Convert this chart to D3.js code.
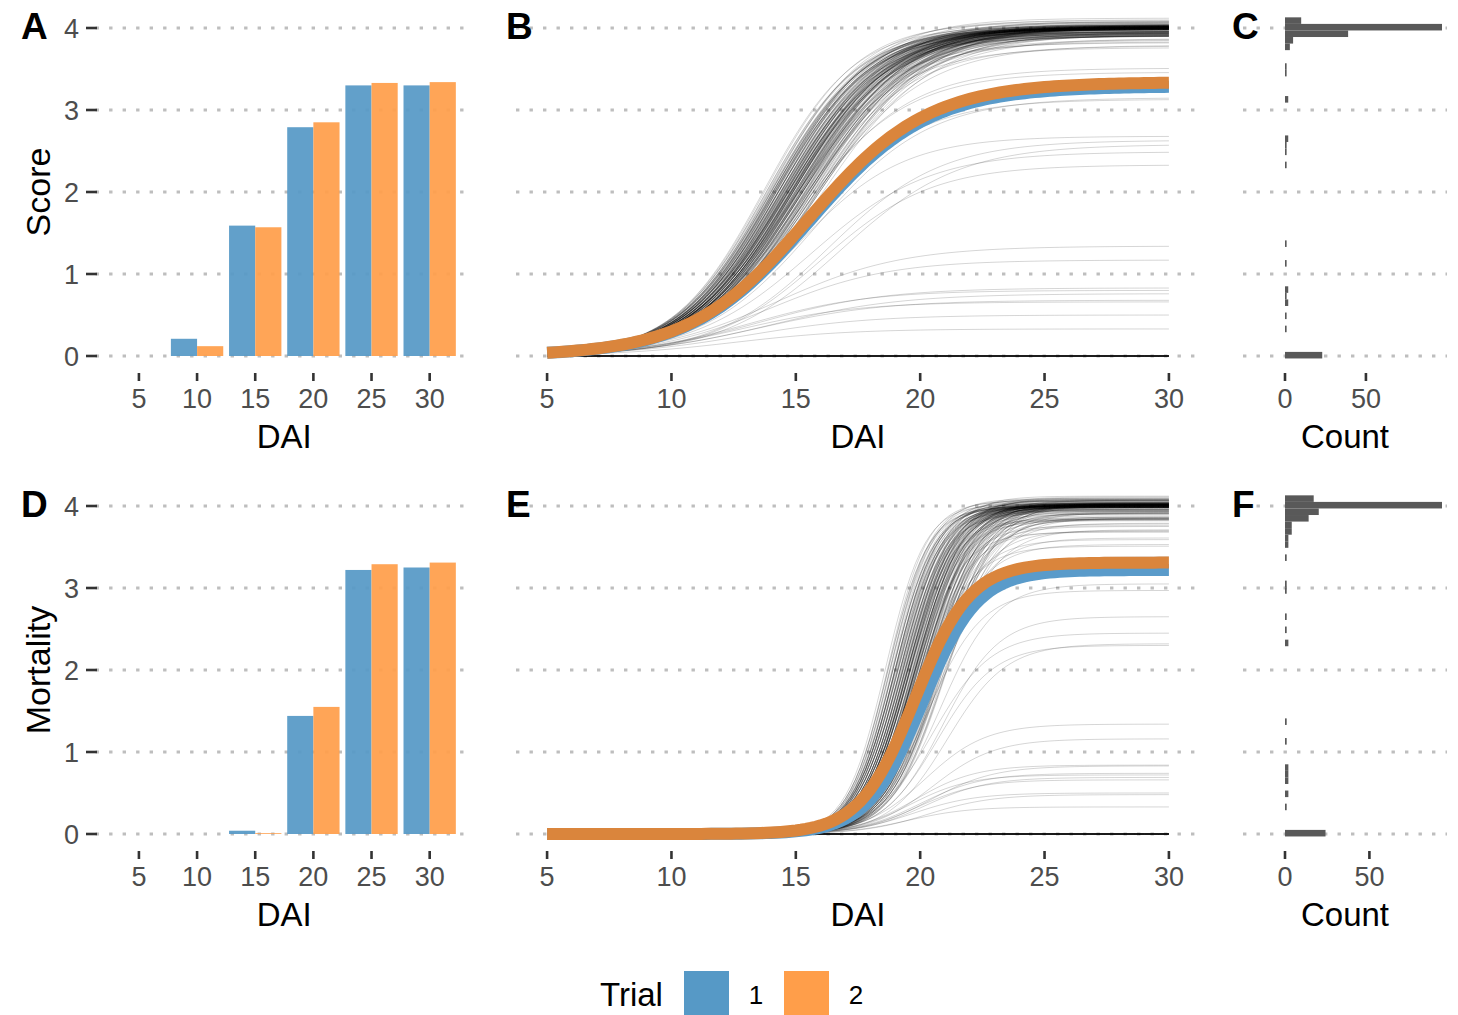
<!DOCTYPE html>
<html>
<head>
<meta charset="utf-8">
<script src="https://cdn.jsdelivr.net/npm/d3@7"></script>
<style>
  body { margin: 0; background: #fff; }
  svg { display: block; font-family: "Liberation Sans", Arial, sans-serif; }
</style>
</head>
<body>
<div id="chart"></div>
<script>
// ---- data ------------------------------------------------------------
const dai = [5, 10, 15, 20, 25, 30];
const trials = ["1", "2"];
const yTicks = [0, 1, 2, 3, 4];
const countTicks = [0, 50];

const scoreTrial1 = [0, 0.21, 1.59, 2.79, 3.30, 3.30];
const scoreTrial2 = [0, 0.12, 1.57, 2.85, 3.33, 3.34];
const mortTrial1 = [0, 0, 0.04, 1.44, 3.22, 3.25];
const mortTrial2 = [0, 0, 0.01, 1.55, 3.29, 3.31];

// fitted logistic per trial: [asymptote, midpoint DAI, rate]
const scoreMeanFits = [[3.29, 15.55, 0.42], [3.34, 15.5, 0.42]];
const mortMeanFits = [[3.22, 20.1, 0.90], [3.31, 19.8, 0.90]];

// fitted logistic per plant: [asymptote, midpoint DAI, rate]
const scoreFits = [
  [4.06,14.2,.52],[4.08,14.6,.50],[4.07,13.8,.54],[4.10,14.4,.51],[4.06,15.1,.49],[4.09,14.0,.53],[4.07,14.7,.50],[4.12,14.3,.52],[4.06,15.4,.48],[4.08,14.9,.51],
  [4.01,14.5,.50],[3.99,14.8,.49],[4.03,14.1,.52],[4.00,15.2,.48],[4.02,14.4,.51],[3.98,15.6,.47],[4.04,13.9,.53],[4.01,14.7,.50],
  [4.00,14.3,.52],[3.99,15.0,.49],[4.02,14.6,.50],[4.03,15.3,.48],[3.98,14.2,.53],[4.01,15.8,.46],[4.00,14.9,.50],[4.04,14.5,.51],
  [3.99,13.8,.54],[4.02,15.1,.49],[4.00,14.0,.52],[4.01,15.5,.47],[3.98,14.6,.51],[4.03,14.8,.50],[4.00,15.9,.46],[4.02,14.3,.52],
  [3.99,15.4,.48],[4.01,14.1,.53],[4.04,15.0,.49],[4.00,14.7,.50],[3.98,15.2,.48],[4.02,13.7,.55],[4.01,14.9,.50],[3.99,14.4,.52],
  [4.03,15.6,.47],[4.00,14.2,.52],[4.02,15.3,.48],[3.98,14.8,.50],[4.01,14.5,.51],[4.04,16.0,.45],[3.99,14.6,.51],[4.00,15.1,.49],
  [4.02,14.0,.53],[4.01,15.7,.47],[3.99,14.3,.52],[4.03,14.9,.50],[4.00,15.5,.48],[3.98,14.1,.53],[4.02,14.7,.50],[4.01,15.2,.49],
  [4.00,13.9,.54],[4.04,14.6,.51],[3.99,15.0,.49],[4.01,14.4,.52],[4.02,15.8,.46],[3.98,14.8,.50],[4.00,14.2,.52],[4.03,15.4,.48],
  [4.01,14.9,.50],[3.99,14.5,.51],[4.02,15.1,.49],[4.00,14.0,.53],[4.04,15.3,.48],[3.98,14.7,.50],[4.01,15.6,.47],[4.00,14.3,.52],
  [4.02,14.8,.50],[3.99,15.2,.49],[4.03,14.1,.53],[4.00,14.6,.51],[4.01,15.9,.46],[3.98,14.4,.52],[4.02,15.0,.49],[4.00,14.7,.50],
  [4.04,14.2,.52],[3.99,15.5,.48],[4.01,14.9,.50],[4.02,14.3,.52],[4.00,15.1,.49],[3.98,13.8,.54],[4.03,14.6,.51],[4.01,15.4,.48],
  [4.00,14.5,.51],[4.02,15.7,.47],[3.99,14.0,.53],[4.01,14.8,.50],[4.04,15.2,.49],[4.00,14.4,.52],[3.98,15.0,.49],[4.02,14.9,.50],
  [4.01,14.1,.53],[3.99,14.7,.50],[4.03,15.3,.48],[4.00,14.6,.51],[4.02,15.6,.47],[3.98,14.2,.52],[4.01,15.0,.49],[4.00,14.8,.50],
  [3.99,15.1,.49],
  [3.95,14.6,.49],[3.93,15.2,.47],[3.96,14.1,.51],[3.91,15.7,.46],[3.94,14.8,.49],[3.90,15.0,.48],[3.96,14.4,.50],[3.92,16.0,.45],
  [3.95,14.9,.49],[3.93,14.3,.51],[3.91,15.4,.47],[3.96,15.1,.48],[3.94,14.0,.52],[3.90,14.7,.49],[3.92,15.5,.47],[3.95,14.5,.50],
  [3.93,15.8,.46],[3.96,14.8,.49],[3.91,14.2,.51],[3.94,15.3,.48],[3.92,14.6,.50],[3.95,15.9,.45],[3.90,15.1,.48],[3.93,14.4,.50],
  [3.96,15.0,.49],[3.94,14.9,.49],[3.91,15.6,.46],[3.95,14.1,.52],[3.92,14.8,.49],[3.93,15.2,.48],[3.90,14.5,.50],[3.96,15.4,.47],
  [3.94,14.7,.49],[3.92,15.0,.48],[3.95,13.9,.53],[3.91,15.3,.47],[3.93,14.6,.50],[3.94,15.5,.47],[3.90,14.3,.50],
  [3.85,15.3,.46],[3.83,14.9,.47],[3.87,15.8,.45],[3.82,14.5,.48],[3.86,15.1,.46],
  [3.78,15.2,.45],[3.76,14.8,.46],[3.79,15.6,.44],
  [3.51,15.2,.46],[3.46,15.0,.45],[3.15,15.8,.44],[3.13,15.4,.45],[2.68,15.0,.47],[2.63,16.3,.44],[2.58,16.8,.42],[2.49,15.6,.42],[2.33,16.0,.45],
  [1.34,14.3,.40],[1.17,14.0,.42],[0.83,13.6,.40],[0.80,13.2,.42],[0.76,14.0,.38],[0.68,13.5,.40],[0.66,12.8,.42],[0.50,13.0,.40],[0.33,12.5,.42],
  [0,0,0],[0,0,0],[0,0,0],[0,0,0],[0,0,0],[0,0,0],[0,0,0],[0,0,0],[0,0,0],[0,0,0],[0,0,0],[0,0,0],
  [0,0,0],[0,0,0],[0,0,0],[0,0,0],[0,0,0],[0,0,0],[0,0,0],[0,0,0],[0,0,0],[0,0,0],[0,0,0]
];

const mortFits = [
  [4.06,19.2,1.15],[4.08,19.6,1.10],[4.07,18.8,1.22],[4.10,19.9,1.08],[4.06,19.4,1.12],[4.09,18.9,1.20],[4.07,20.2,1.05],[4.12,19.5,1.14],[4.06,19.0,1.18],
  [4.08,19.7,1.10],[4.07,20.5,1.02],[4.09,19.3,1.16],[4.06,18.7,1.25],[4.11,19.8,1.09],[4.08,19.1,1.17],[4.06,20.0,1.06],[4.07,19.6,1.12],
  [4.01,19.4,1.12],[3.99,19.8,1.08],[4.03,19.0,1.18],[4.00,20.1,1.05],[4.02,19.3,1.14],[3.98,20.6,1.00],[4.04,18.8,1.22],[4.01,19.6,1.10],
  [4.00,19.2,1.15],[3.99,19.9,1.07],[4.02,19.5,1.11],[4.03,20.3,1.04],[3.98,19.1,1.17],[4.01,20.8,0.98],[4.00,19.7,1.09],[4.04,19.4,1.13],
  [3.99,18.7,1.24],[4.02,20.0,1.06],[4.00,18.9,1.20],[4.01,20.4,1.02],[3.98,19.5,1.12],[4.03,19.8,1.08],[4.00,20.9,0.97],[4.02,19.2,1.15],
  [3.99,20.3,1.04],[4.01,19.0,1.19],[4.04,19.9,1.07],[4.00,19.6,1.10],[3.98,20.1,1.05],[4.02,18.6,1.26],[4.01,19.8,1.08],[3.99,19.3,1.14],
  [4.03,20.5,1.01],[4.00,19.1,1.16],[4.02,20.2,1.05],[3.98,19.7,1.09],[4.01,19.4,1.12],[4.04,21.0,0.96],[3.99,19.5,1.11],[4.00,20.0,1.06],
  [4.02,18.9,1.21],[4.01,20.6,1.00],[3.99,19.2,1.15],[4.03,19.8,1.08],[4.00,20.4,1.03],[3.98,19.0,1.18],[4.02,19.6,1.10],[4.01,20.1,1.05],
  [4.00,18.8,1.23],[4.04,19.5,1.12],[3.99,19.9,1.07],[4.01,19.3,1.14],[4.02,20.7,0.99],[3.98,19.7,1.09],[4.00,19.1,1.16],[4.03,20.3,1.04],
  [4.01,19.8,1.08],[3.99,19.4,1.12],[4.02,20.0,1.06],[4.00,18.9,1.20],[4.04,20.2,1.05],[3.98,19.6,1.10],[4.01,20.5,1.01],[4.00,19.2,1.15],
  [4.02,19.7,1.09],[3.99,20.1,1.05],[4.03,19.0,1.18],[4.00,19.5,1.11],[4.01,20.8,0.98],[3.98,19.3,1.14],[4.02,19.9,1.07],[4.00,19.6,1.10],
  [4.04,19.1,1.16],[3.99,20.4,1.03],[4.01,19.8,1.08],[4.02,19.2,1.15],[4.00,20.0,1.06],[3.98,18.7,1.24],[4.03,19.5,1.12],[4.01,20.3,1.04],
  [4.00,19.4,1.13],[4.02,20.6,1.00],[3.99,18.9,1.21],[4.01,19.7,1.09],[4.04,20.1,1.05],
  [4.00,19.3,1.14],[3.98,19.9,1.07],[4.02,19.8,1.08],[4.01,19.0,1.19],[3.99,20.5,1.01],[4.03,19.6,1.10],[4.00,20.2,1.05],[4.01,19.5,1.11],
  [3.95,19.6,1.08],[3.93,20.2,1.03],[3.96,19.1,1.14],[3.91,20.7,0.98],[3.94,19.8,1.06],[3.90,20.0,1.04],[3.96,19.4,1.10],[3.92,21.0,0.95],
  [3.95,19.9,1.06],[3.93,19.3,1.12],[3.91,20.4,1.00],[3.96,20.1,1.04],[3.94,19.0,1.15],[3.90,19.7,1.08],[3.92,20.5,1.00],[3.95,19.5,1.09],
  [3.93,20.8,0.97],[3.96,19.8,1.06],[3.91,19.2,1.12],[3.94,20.3,1.02],
  [3.85,20.3,1.00],[3.84,19.9,1.04],[3.87,20.8,0.96],[3.83,19.5,1.08],[3.86,20.1,1.02],[3.84,20.6,0.98],[3.82,19.7,1.05],
  [3.85,21.0,0.95],[3.88,20.0,1.03],[3.84,19.4,1.09],[3.83,20.4,0.99],[3.86,19.8,1.05],[3.85,20.7,0.97],[3.84,20.2,1.01],
  [3.78,20.4,0.98],[3.76,19.9,1.02],[3.79,20.8,0.95],[3.75,20.2,1.00],
  [3.70,20.5,0.96],[3.69,20.0,1.00],[3.71,20.9,0.94],[3.68,19.7,1.03],
  [3.61,20.6,0.95],[3.59,20.2,0.98],
  [3.53,20.4,0.95],[3.51,20.0,0.98],[3.38,20.6,0.92],[3.05,20.8,0.90],[2.97,20.3,0.92],[2.65,20.9,0.88],[2.45,20.5,0.85],[2.32,21.1,0.85],[2.30,20.7,0.88],
  [1.34,20.2,0.82],[1.16,20.5,0.80],[0.84,19.8,0.82],[0.83,20.4,0.78],[0.74,20.0,0.80],[0.72,19.6,0.84],[0.69,20.2,0.80],[0.66,19.9,0.82],
  [0.50,19.7,0.80],[0.48,20.3,0.78],[0.33,19.5,0.82],
  [0,0,0],[0,0,0],[0,0,0],[0,0,0],[0,0,0],[0,0,0],[0,0,0],[0,0,0],[0,0,0],[0,0,0],[0,0,0],[0,0,0],
  [0,0,0],[0,0,0],[0,0,0],[0,0,0],[0,0,0],[0,0,0],[0,0,0],[0,0,0],[0,0,0],[0,0,0],[0,0,0],[0,0,0]
];

// ---- setup -----------------------------------------------------------
const W = 1458, H = 1015;
const trialColor = d3.scaleOrdinal().domain(trials).range(["#5699C6", "#FF9E4A"]);
const lineColor = d3.scaleOrdinal().domain(trials).range(["#5A9BCA", "#DA853C"]);
const gridColor = "#BEBEBE";
const tickColor = "#333333";
const labelColor = "#4D4D4D";

const svg = d3.select("#chart").append("svg").attr("width", W).attr("height", H);

const xBar = d3.scaleLinear().domain([1.275, 33.725]).range([95.6, 473]);
const xDai = d3.scaleLinear().domain([3.75, 31.25]).range([516, 1200]);
const panelC = [1243, 1447];

const logistic = ([k, mid, rate], t) => k / (1 + Math.exp(-rate * (t - mid)));
const days = d3.range(5, 30.001, 0.2);

const rows = [
  { top: 28, bottom: 356, tags: ["A", "B", "C"], title: "Score",
    bars: [scoreTrial1, scoreTrial2], fits: scoreFits, means: scoreMeanFits },
  { top: 506, bottom: 834, tags: ["D", "E", "F"], title: "Mortality",
    bars: [mortTrial1, mortTrial2], fits: mortFits, means: mortMeanFits }
];

rows.forEach(drawRow);
drawLegend();

function grid(g, y, x0, x1) {
  g.append("g").selectAll("line").data(yTicks).join("line")
    .attr("x1", x0).attr("x2", x1)
    .attr("y1", d => y(d)).attr("y2", d => y(d))
    .attr("stroke", gridColor).attr("stroke-width", 3.2)
    .attr("stroke-dasharray", "3.4 10.1");
}

function xAxis(g, x, ticks, row) {
  g.append("g").selectAll("line").data(ticks).join("line")
    .attr("x1", d => x(d)).attr("x2", d => x(d))
    .attr("y1", row.bottom + 17).attr("y2", row.bottom + 25)
    .attr("stroke", tickColor).attr("stroke-width", 2.6);
  g.append("g").selectAll("text").data(ticks).join("text")
    .attr("x", d => x(d)).attr("y", row.bottom + 52)
    .attr("text-anchor", "middle").attr("font-size", 27)
    .attr("fill", labelColor).text(d => d);
}

function title(g, x, y, text) {
  g.append("text").attr("x", x).attr("y", y).attr("text-anchor", "middle")
    .attr("font-size", 33).attr("fill", "#000").text(text);
}

function tag(g, x, y, text) {
  g.append("text").attr("x", x).attr("y", y).attr("font-size", 37)
    .attr("font-weight", "bold").attr("fill", "#000").text(text);
}

function drawRow(row) {
  const y = d3.scaleLinear().domain([0, 4]).range([row.bottom, row.top]);
  const g = svg.append("g");

  // --- bar panel ---
  const gA = g.append("g");
  grid(gA, y, xBar.range()[0], xBar.range()[1]);
  const barW = xBar(4.5) - xBar(0);
  const barData = dai.flatMap((d, i) => trials.map((t, j) => ({ dai: d, trial: t, j, v: row.bars[j][i] })));
  gA.append("g").selectAll("rect").data(barData.filter(d => d.v > 0)).join("rect")
    .attr("x", d => xBar(d.dai) - barW / 2 + d.j * barW / 2)
    .attr("width", barW / 2)
    .attr("y", d => y(d.v))
    .attr("height", d => y(0) - y(d.v))
    .attr("fill", d => trialColor(d.trial))
    .attr("fill-opacity", 0.93);
  gA.append("g").selectAll("line").data(yTicks).join("line")
    .attr("x1", 86).attr("x2", 97)
    .attr("y1", d => y(d)).attr("y2", d => y(d))
    .attr("stroke", tickColor).attr("stroke-width", 2.6);
  gA.append("g").selectAll("text").data(yTicks).join("text")
    .attr("x", 79).attr("y", d => y(d) + 9.5)
    .attr("text-anchor", "end").attr("font-size", 27)
    .attr("fill", labelColor).text(d => d);
  xAxis(gA, xBar, dai, row);
  title(gA, (xBar.range()[0] + xBar.range()[1]) / 2, row.bottom + 92, "DAI");
  gA.append("text")
    .attr("transform", `translate(50,${(row.top + row.bottom) / 2}) rotate(-90)`)
    .attr("text-anchor", "middle").attr("font-size", 34).attr("fill", "#000")
    .text(row.title);
  tag(gA, 21, row.top + 10.5, row.tags[0]);

  // --- curve panel ---
  const gB = g.append("g");
  grid(gB, y, xDai.range()[0], xDai.range()[1]);
  const line = d3.line().x(d => xDai(d[0])).y(d => y(d[1]));
  gB.append("g").selectAll("path").data(row.fits).join("path")
    .attr("d", f => line(days.map(t => [t, logistic(f, t)])))
    .attr("fill", "none").attr("stroke", "#000")
    .attr("stroke-opacity", 0.22).attr("stroke-width", 0.75);
  gB.append("g").selectAll("path").data(row.means).join("path")
    .attr("d", f => line(days.map(t => [t, logistic(f, t)])))
    .attr("fill", "none").attr("stroke", (f, i) => lineColor(trials[i]))
    .attr("stroke-width", 12);
  xAxis(gB, xDai, dai, row);
  title(gB, (xDai.range()[0] + xDai.range()[1]) / 2, row.bottom + 92, "DAI");
  tag(gB, 506, row.top + 10.5, row.tags[1]);

  // --- histogram panel ---
  const gC = g.append("g");
  grid(gC, y, panelC[0], panelC[1]);
  const bins = d3.bin()
    .domain([-0.03, 4.13])
    .thresholds(d3.range(0.05, 4.12, 0.08))(row.fits.map(f => f[0]));
  const maxCount = d3.max(bins, b => b.length);
  const xCount = d3.scaleLinear().domain([0, maxCount]).range([1285, 1442]);
  gC.append("g").selectAll("rect").data(bins.filter(b => b.length > 0)).join("rect")
    .attr("x", xCount(0))
    .attr("width", b => xCount(b.length) - xCount(0))
    .attr("y", b => y(b.x1))
    .attr("height", b => y(b.x0) - y(b.x1))
    .attr("fill", "#595959");
  xAxis(gC, xCount, countTicks, row);
  title(gC, (panelC[0] + panelC[1]) / 2, row.bottom + 92, "Count");
  tag(gC, 1232, row.top + 10.5, row.tags[2]);
}

function drawLegend() {
  const g = svg.append("g");
  g.append("text").attr("x", 600).attr("y", 1006).attr("font-size", 33)
    .attr("fill", "#000").text("Trial");
  const items = g.selectAll("g.item").data(trials).join("g")
    .attr("transform", (d, i) => `translate(${684 + i * 100},971)`);
  items.append("rect").attr("width", 45).attr("height", 45)
    .attr("fill", d => trialColor(d));
  items.append("text").attr("x", 72).attr("y", 33).attr("text-anchor", "middle")
    .attr("font-size", 26).attr("fill", "#000").text(d => d);
}
</script>
</body>
</html>
